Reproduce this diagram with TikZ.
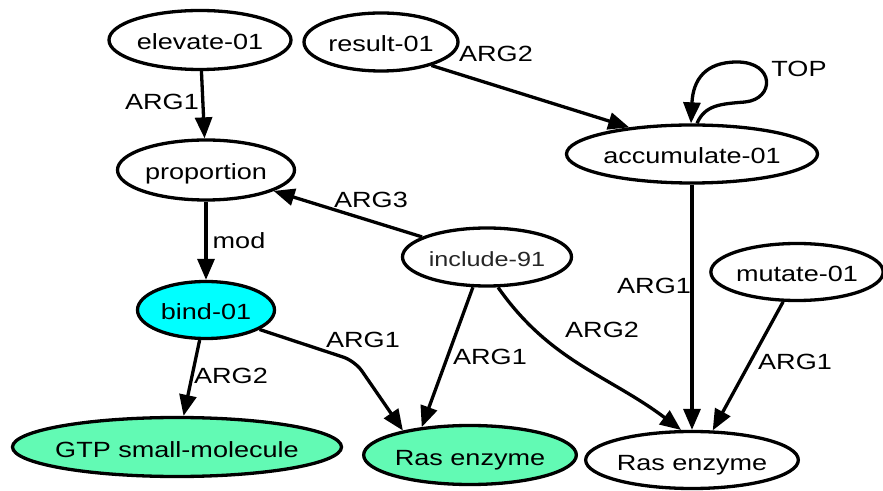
\documentclass[tikz,border=0pt]{standalone}
\usepackage{fontspec}
\setmainfont[FakeStretch=1.23]{Liberation Sans}
\usetikzlibrary{arrows.meta,shapes.geometric}
\definecolor{entgreen}{HTML}{62FAB4}
\definecolor{bindcyan}{RGB}{0,255,255}
\begin{document}
\begin{tikzpicture}[x=1pt,y=1pt,
  every node/.style={font=\fontsize{22}{24}\selectfont},
  concept/.style={ellipse, draw, line width=3.3pt, inner sep=0pt, fill=white, text depth=2pt, text height=22pt},
  edge/.style={line width=3.3pt, -{Triangle[length=21pt,width=17pt]}},
  lbl/.style={inner sep=0pt}]
\useasboundingbox (0,0) rectangle (883,490);
% concepts
\node[concept, minimum width=182pt, minimum height=59pt] (elev) at (200,450) {elevate-01};
\node[concept, minimum width=154pt, minimum height=58pt] (res) at (381,448) {result-01};
\node[concept, minimum width=177pt, minimum height=60pt] (prop) at (206,320) {proportion};
\node[concept, minimum width=245pt, minimum height=58pt] (acc) at (692,336) {accumulate-01};
\node[concept, minimum width=169pt, minimum height=58pt, font=\fontsize{20.5}{24}\selectfont, text=black!85] (inc) at (487,233) {include-91};
\node[concept, minimum width=166pt, minimum height=57pt] (mut) at (797,218) {mutate-01};
\node[concept, fill=bindcyan, minimum width=137pt, minimum height=57pt] (bind) at (206,180) {bind-01};
\node[concept, fill=entgreen, inner xsep=-14pt, minimum width=329pt, minimum height=59pt] (gtp) at (177,43) {GTP small-molecule};
\node[concept, fill=entgreen, minimum width=211pt, minimum height=59pt] (rasg) at (470,35) {Ras enzyme};
\node[concept, minimum width=211pt, minimum height=57pt] (rasw) at (692,30) {Ras enzyme};
% edges
\draw[edge] (elev) -- (prop);
\draw[edge] (res.-25) -- (acc.157);
\draw[edge] ([xshift=5pt]acc.north) .. controls (705,385) and (720,386) .. (745,388)
  .. controls (775,391) and (775,428) .. (737,428)
  .. controls (705,428) and (693,410) .. ([xshift=-1pt]acc.north);
\draw[edge] (prop) -- (bind);
\draw[edge] (inc) -- (prop);
\draw[edge] (bind) -- (gtp);
\draw[edge, rounded corners=12pt] (bind.-20) -- (355,129) -- (rasg.160);
\draw[edge] (inc.245) -- (rasg.150);
\draw[edge] (inc.-70) to[out=-55, in=143] (rasw.110);
\draw[edge] (acc) -- (rasw);
\draw[edge] (mut.245) -- (rasw.55);
% labels
\node[lbl] (l1) at (162,388) {ARG1};
\node[lbl] (l2) at (496,436) {ARG2};
\node[lbl] (l3) at (799,421) {TOP};
\node[lbl] (l4) at (371,290) {ARG3};
\node[lbl] (l5) at (239,249) {mod};
\node[lbl] (l6) at (231,114) {ARG2};
\node[lbl] (l7) at (363,150) {ARG1};
\node[lbl] (l8) at (490,133) {ARG1};
\node[lbl] (l9) at (602,160) {ARG2};
\node[lbl] (l10) at (654,204) {ARG1};
\node[lbl] (l11) at (795,128) {ARG1};
\end{tikzpicture}
\end{document}
